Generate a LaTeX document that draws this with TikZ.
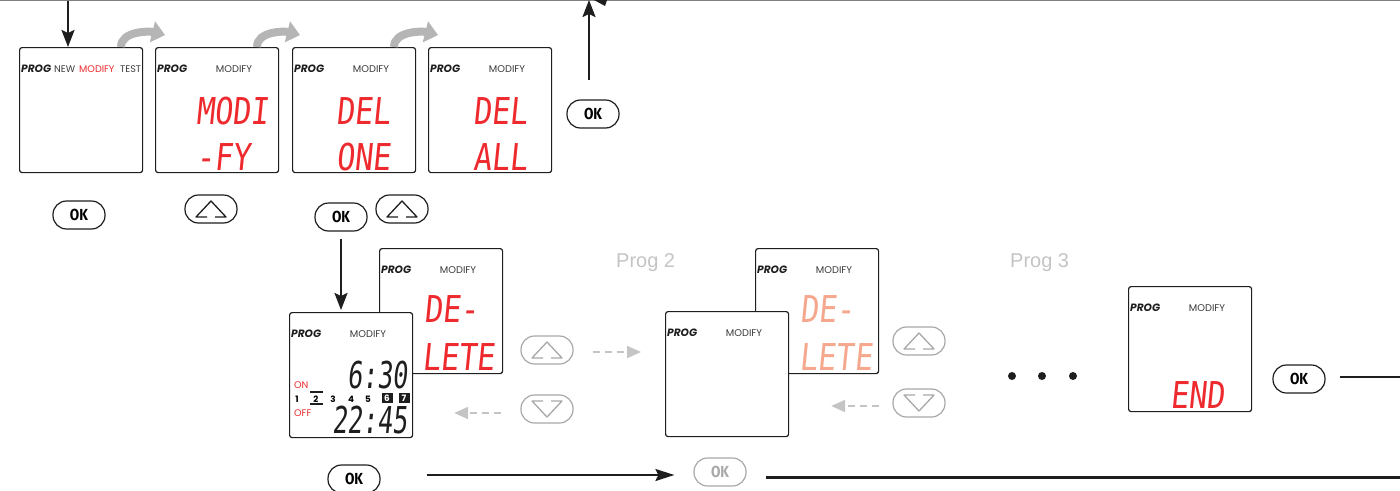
\documentclass[tikz,border=0pt]{standalone}
\usepackage{fontspec}
\usetikzlibrary{arrows.meta,calc}
\setmainfont{Liberation Sans}
\newfontfamily\pop{Poppins}
\newfontfamily\segfont[FakeStretch=0.82,FakeSlant=0.1]{DejaVu Sans Mono}
\newfontfamily\clockfont[FakeStretch=0.68,FakeSlant=0.1]{DejaVu Sans Mono}
\newfontfamily\okfont[FakeStretch=0.85]{Fira Sans}
\definecolor{lcdred}{HTML}{EE2A2E}
\definecolor{salmon}{HTML}{F5A88E}
\definecolor{lgray}{HTML}{C4C4C4}
\definecolor{dgray}{HTML}{3C3C3C}
\definecolor{btngray}{HTML}{A8A8A8}
\definecolor{arrgray}{HTML}{B5B5B5}
\definecolor{inkblack}{HTML}{1E1E1E}
\newcommand\screenhead[1]{%
  \node[hdr] at ($(#1.north west)+(2,25)$) {PROG};
  \node[mod] at ($(#1.north west)+(79,25)$) {MODIFY};}
\begin{document}
\begin{tikzpicture}[x=1pt,y=-1pt,
  screen/.style={draw=inkblack,line width=1.2pt,rounded corners=2.5pt,fill=white,
    minimum width=123pt,minimum height=125pt,inner sep=0pt,anchor=north west},
  hdr/.style={font=\pop\bfseries\itshape\fontsize{10.6}{11}\selectfont,text=inkblack,anchor=base west,inner sep=0pt},
  mod/.style={font=\pop\fontsize{9.8}{10}\selectfont,text=dgray,anchor=base,inner sep=0pt},
  small/.style={font=\pop\fontsize{9.6}{10}\selectfont,text=dgray,anchor=base west,inner sep=0pt},
  seg/.style={font=\segfont\fontsize{37}{37}\selectfont,text=lcdred,anchor=base west,inner sep=0pt},
  clock/.style={font=\clockfont\fontsize{37}{37}\selectfont,text=inkblack,anchor=base east,inner sep=0pt},
  btn/.style={draw=inkblack,line width=1.2pt,rounded corners=13.5pt,minimum width=52pt,
    minimum height=28pt,inner sep=0pt,fill=white,font=\okfont\bfseries\fontsize{16}{16}\selectfont},
  gbtn/.style={btn,draw=btngray,text=btngray},
  day/.style={font=\pop\bfseries\fontsize{8.8}{9}\selectfont,anchor=base,inner sep=0pt},
  daybox/.style={fill=inkblack,text=white,font=\pop\bfseries\fontsize{8.8}{9}\selectfont,
    minimum width=11pt,minimum height=10.5pt,inner sep=0pt},
  arr/.style={line width=2.2pt,draw=inkblack,-{Stealth[length=17pt,width=13pt,inset=3pt]}},
  arrb/.style={line width=2pt,draw=inkblack,-{Stealth[length=19pt,width=12pt,inset=3pt]}},
  darr/.style={line width=2pt,draw=lgray,dash pattern=on 7pt off 5pt,
    -{Triangle[length=14pt,width=12pt]}},
  garr/.style={line width=8pt,draw=arrgray,-{Triangle[length=13pt,width=21pt]}},
  upicon/.pic={\draw[line width=1.3pt,line join=round] (-4,8) -- (-15,8) -- (0,-8) -- (15,8) -- (4,8);},
  dnicon/.pic={\draw[line width=1.3pt,line join=round] (-4,-8) -- (-15,-8) -- (0,8) -- (15,-8) -- (4,-8);}
]
\useasboundingbox (0,0) rectangle (1400,490);
% top line
\coordinate (tl) at (0,0.7);
\coordinate (tr) at (1400,0.7);
\draw[line width=1.3pt,draw=black!50] (tl) -- (tr);

% top row of screens
\node[screen] (s1) at (19,47) {};
\node[screen] (s2) at (155,47) {};
\node[screen] (s3) at (292,47) {};
\node[screen] (s4) at (428,47) {};

\node[hdr] at ($(s1.north west)+(2,25)$) {PROG};
\node[small] at ($(s1.north west)+(35,25)$) {NEW};
\node[small,text=lcdred] at ($(s1.north west)+(60,25)$) {MODIFY};
\node[small] at ($(s1.north west)+(101,25)$) {TEST};
\screenhead{s2}
\screenhead{s3}
\screenhead{s4}
\node[seg] at ($(s2.north west)+(41,77)$) {MODI};
\node[seg] at ($(s2.north west)+(41,123)$) {-FY};
\node[seg] at ($(s3.north west)+(44,77)$) {DEL};
\node[seg] at ($(s3.north west)+(44,123)$) {ONE};
\node[seg] at ($(s4.north west)+(45,77)$) {DEL};
\node[seg] at ($(s4.north west)+(45,123)$) {ALL};

% gray curved arrows
\draw[garr] ($(s1.north west)+(102,0)$) .. controls +(0,-16) and +(-16,-4) .. ($(s2.north west)+(10,-12)$);
\draw[garr] ($(s2.north west)+(102,0)$) .. controls +(0,-16) and +(-16,-4) .. ($(s3.north west)+(8,-12)$);
\draw[garr] ($(s3.north west)+(102,0)$) .. controls +(0,-16) and +(-16,-4) .. ($(s4.north west)+(10,-12)$);

% entry arrow
\coordinate (d0) at (68,0.5);
\draw[arr] (d0) -- (d0 |- s1.north);

% buttons top area
\node[btn] (ok1) at (79,215) {OK};
\node[btn] (up1) at (211,209) {};
\pic[color=inkblack] at (up1) {upicon};
\node[btn] (ok2) at (341,217) {OK};
\node[btn] (up2) at (402,209) {};
\pic[color=inkblack] at (up2) {upicon};
\node[btn] (ok0) at (593,114) {OK};
\coordinate (u0) at (589,80);
\coordinate (u1) at (589,0);
\draw[arr] (u0) -- (u1);
\fill[inkblack] (594,0) -- (607,0) -- (605,6) -- cycle;

% lower-left stacked screens
\node[screen] (sB) at (379,248) {};
\screenhead{sB}
\node[seg] at ($(sB.north west)+(45,74)$) {DE-};
\node[seg] at ($(sB.north west)+(43,122)$) {LETE};
\node[screen] (sA) at (289,312) {};
\screenhead{sA}
\node[clock] at (408,388) {6:30};
\node[clock] at (408,433) {22:45};
\node[small,text=lcdred] at (294,388) {ON};
\node[small,text=lcdred] at (294,416) {OFF};
\node[day] at (297,402) {1};
\node[day] at (316,402) {2};
\draw[line width=1.3pt,inkblack] (310,392) -- (323,392);
\draw[line width=1.3pt,inkblack] (310,404) -- (323,404);
\node[day] at (333,402) {3};
\node[day] at (351,402) {4};
\node[day] at (368,402) {5};
\node[daybox] at (387,398) {6};
\node[daybox] at (404,398) {7};

\draw[arr,shorten >=2pt] ($(ok2.south)+(0,7)$) -- (ok2.south |- sA.north);

% prog 2
\node[font=\fontsize{20}{20}\selectfont,text=lgray,anchor=base west,inner sep=0pt] at (616,267) {Prog 2};
\node[gbtn] (up3) at (547,350) {};
\pic[color=btngray] at (up3) {upicon};
\node[gbtn] (dn3) at (547,409) {};
\pic[color=btngray] at (dn3) {dnicon};
\node[screen] (sD) at (755,248) {};
\screenhead{sD}
\node[seg,text=salmon] at ($(sD.north west)+(45,74)$) {DE-};
\node[seg,text=salmon] at ($(sD.north west)+(44,122)$) {LETE};
\node[screen] (sC) at (665,311) {};
\screenhead{sC}
\draw[darr] ($(up3.east)+(19,2)$) -- ($(sC.west |- up3)+(-24,2)$);
\draw[darr] ($(dn3.west)+(-19,4)$) -- ($(sA.east |- dn3)+(41,4)$);

\node[gbtn] (up4) at (919,341) {};
\pic[color=btngray] at (up4) {upicon};
\node[gbtn] (dn4) at (919,403) {};
\pic[color=btngray] at (dn4) {dnicon};
\draw[darr] ($(dn4.west)+(-13,3)$) -- ($(sC.east |- dn4)+(42,3)$);

% prog 3
\node[font=\fontsize{20}{20}\selectfont,text=lgray,anchor=base west,inner sep=0pt] at (1010,267) {Prog 3};
\fill[inkblack] (1012,376) circle (4);
\fill[inkblack] (1042,376) circle (4);
\fill[inkblack] (1073,376) circle (4);
\node[screen] (sE) at (1128,286) {};
\screenhead{sE}
\node[seg] at ($(sE.north west)+(42,122)$) {END};
\node[btn] (ok5) at (1299,379) {OK};
\coordinate (r1) at (1400,377);
\draw[line width=2pt,inkblack] ($(ok5.east)+(14,-2)$) -- (r1);

% bottom row
\node[btn] (ok3) at (354,479) {OK};
\node[gbtn] (ok4) at (720,472) {OK};
\draw[arrb] ($(ok3.east)+(46,-4)$) -- ($(ok4.west)+(-19,3)$);
\coordinate (r2) at (1400,477);
\draw[line width=3pt,inkblack] ($(ok4.east)+(19,5)$) -- (r2);
\end{tikzpicture}
\end{document}
